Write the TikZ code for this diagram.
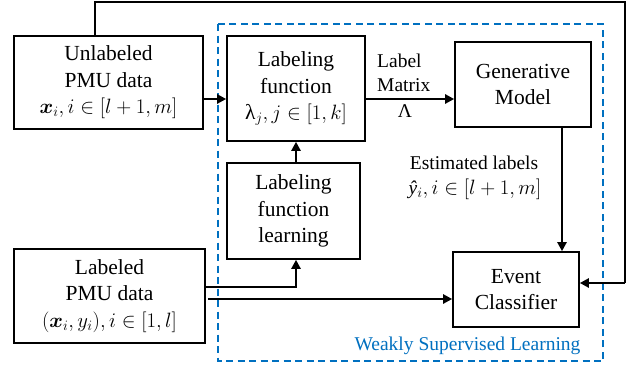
\documentclass[tikz,border=0pt]{standalone}
\usepackage{amsmath}
\usepackage{fontspec}
\setmainfont{LiberationSerif}[Extension=.ttf,UprightFont=*-Regular,BoldFont=*-Bold,ItalicFont=*-Italic,BoldItalicFont=*-BoldItalic]
\usetikzlibrary{arrows.meta}
\definecolor{wsblue}{RGB}{0,112,192}
\begin{document}
\begin{tikzpicture}[x=1pt,y=-1pt,
  box/.style={draw=black,line width=1.6pt,rectangle,align=center,inner sep=0pt,
    font=\fontsize{21.5}{26.5}\selectfont},
  conn/.style={line width=2.4pt,line join=miter},
  arr/.style={conn,-{Triangle[length=9pt,width=9pt]}},
  lbl/.style={font=\fontsize{19.5}{23.5}\selectfont,inner sep=0pt},
]
\useasboundingbox (0,0) rectangle (639,367);
\fill[white] (0,0) rectangle (639,367);
% dashed region
\draw[wsblue,line width=1.5pt,dash pattern=on 7pt off 4.5pt] (218,24) rectangle (603,361);
\node[lbl,text=wsblue,anchor=center] (wsl) at (467.5,346) {Weakly Supervised Learning};
% boxes
\node[box,minimum width=189,minimum height=93] (U) at (108.5,82.5)
  {Unlabeled\\PMU data\\$\boldsymbol{x}_i, i\in[l+1,m]$};
\node[box,minimum width=138,minimum height=105] (LF) at (296,88.5)
  {Labeling\\function\\λ$_j, j\in[1,k]$};
\node[box,minimum width=136,minimum height=85] (GM) at (523,84.5)
  {Generative\\Model};
\node[box,minimum width=133,minimum height=96] (LFL) at (293.5,211)
  {Labeling\\function\\learning};
\node[box,minimum width=191,minimum height=94] (L) at (109.5,296)
  {Labeled\\PMU data\\$(\boldsymbol{x}_i, y_i), i\in[1,l]$};
\node[box,minimum width=126,minimum height=75] (EC) at (516,289.5)
  {Event\\Classifier};
% helper coordinates
\coordinate (r99) at (0,99);
\coordinate (ctop) at (95,2);
\coordinate (cright) at (625,2);
\coordinate (r283) at (625,283);
\coordinate (c562) at (562,0);
\coordinate (c296) at (296,0);
\coordinate (r287) at (0,287);
\coordinate (r299) at (208,299);
% connectors
\draw[arr] (U.east |- r99) -- (LF.west |- r99);
\draw[arr] (LF.east |- r99) -- (GM.west |- r99);
\draw[conn] (U.north -| ctop) -- (ctop) -- (cright) -- (r283);
\draw[arr] (r283) -- (EC.east |- r283);
\draw[arr] (GM.south -| c562) -- (EC.north -| c562);
\draw[arr] (LFL.north -| c296) -- (LF.south -| c296);
\draw[arr] (L.east |- r287) -| (LFL.south -| c296);
\draw[arr] (r299) -- (EC.west |- r299);
% labels
\node[lbl,align=left,anchor=north west,font=\fontsize{19.5}{24}\selectfont] (lm) at (377,54) {Label\\Matrix};
\node[lbl] (lam) at (405,111) {Λ};
\node[lbl,anchor=base] (est1) at (474,169) {Estimated labels};
\node[lbl,anchor=base] (est2) at (475,194) {{\itshape ŷ}$_i, i\in[l+1,m]$};
\end{tikzpicture}
\end{document}
